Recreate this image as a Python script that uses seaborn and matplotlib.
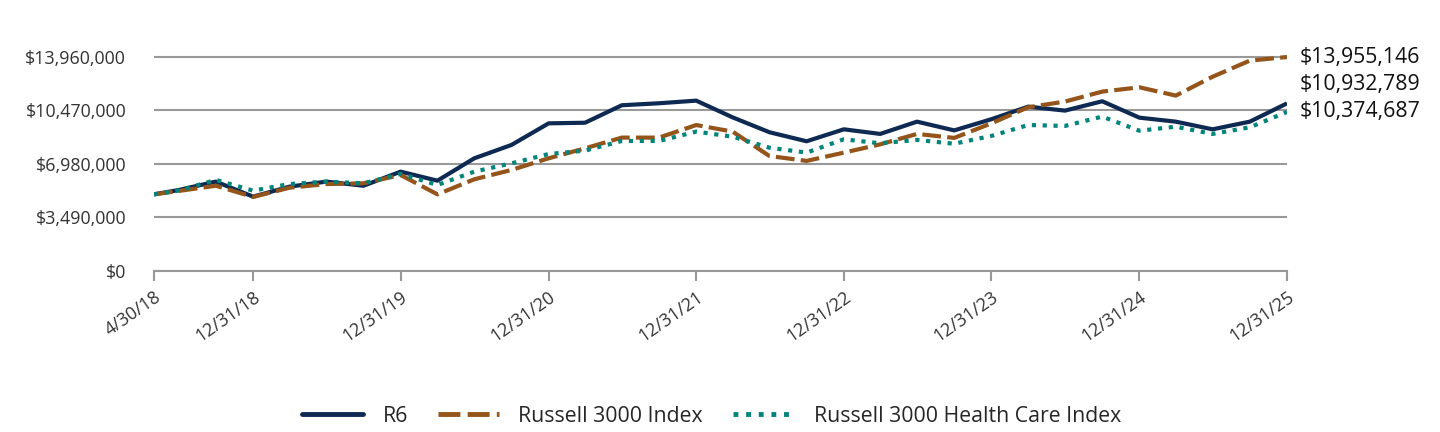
import matplotlib
matplotlib.use("Agg")
import matplotlib.pyplot as plt
import seaborn as sns
import pandas as pd
import numpy as np
from matplotlib.lines import Line2D

dates = ["2018-04-30"] + [str(d.date()) for d in pd.date_range("2018-06-30", "2025-12-31", freq="QE")]

r6 = [5.00, 5.28, 5.83, 4.85, 5.50, 5.83, 5.56, 6.48, 5.89, 7.35, 8.22, 9.63, 9.67, 10.81, 10.94,
      11.11, 10.02, 9.05, 8.46, 9.24, 8.94, 9.74, 9.17, 9.90, 10.72, 10.46, 11.07, 10.00, 9.74,
      9.24, 9.74, 10.932789]
r3000 = [5.00, 5.22, 5.56, 4.83, 5.43, 5.67, 5.72, 6.26, 5.00, 5.98, 6.59, 7.35, 8.00, 8.70, 8.70,
         9.52, 9.09, 7.50, 7.18, 7.72, 8.26, 8.94, 8.68, 9.63, 10.68, 11.05, 11.70, 11.98, 11.44,
         12.67, 13.72, 13.955146]
hc = [5.00, 5.25, 5.94, 5.24, 5.67, 5.83, 5.72, 6.33, 5.61, 6.48, 7.02, 7.63, 7.85, 8.48, 8.48,
      9.09, 8.76, 8.04, 7.72, 8.59, 8.33, 8.55, 8.30, 8.81, 9.52, 9.46, 10.07, 9.15, 9.41,
      8.94, 9.37, 10.374687]

series_names = ["R6", "Russell 3000 Index", "Russell 3000 Health Care Index"]
end_labels = ["$10,932,789", "$13,955,146", "$10,374,687"]
ytick_vals = [0, 3490000, 6980000, 10470000, 13960000]
ytick_labels = ["$0", "$3,490,000", "$6,980,000", "$10,470,000", "$13,960,000"]
xtick_dates = ["2018-04-30", "2018-12-31", "2019-12-31", "2020-12-31", "2021-12-31",
               "2022-12-31", "2023-12-31", "2024-12-31", "2025-12-31"]
xtick_labels = ["4/30/18", "12/31/18", "12/31/19", "12/31/20", "12/31/21",
                "12/31/22", "12/31/23", "12/31/24", "12/31/25"]

dt = pd.to_datetime(dates)
n = len(dt)
df = pd.DataFrame({
    "date": np.tile(dt, 3),
    "value": np.array(r6 + r3000 + hc) * 1e6,
    "series": np.repeat(series_names, n),
})

sns.set_theme(style="white")
plt.rcParams["font.family"] = ["Open Sans", "DejaVu Sans"]

colors = {"R6": "#0e2a52", "Russell 3000 Index": "#94541a", "Russell 3000 Health Care Index": "#00857a"}
fig = plt.figure(figsize=(14.4, 4.32), dpi=100)
ax = fig.add_axes([154 / 1440, 1 - 271 / 432, (1287 - 154) / 1440, 230 / 432])

sns.lineplot(data=df, x="date", y="value", hue="series", palette=colors, ax=ax, legend=False)
styles = [dict(lw=3.0, ls="-"), dict(lw=3.0, ls=(0, (4.5, 1.5))), dict(lw=3.0, ls=(0, (1, 1.6)))]
for line, st in zip(ax.get_lines(), styles):
    line.set_linewidth(st["lw"])
    line.set_linestyle(st["ls"])
    line.set_solid_capstyle("butt")
    line.set_dash_capstyle("butt")

ax.set_ylim(0, 15.0e6)
ax.set_xlim(dt[0], dt[-1])
ax.set_yticks(ytick_vals)
ax.set_yticklabels(ytick_labels, fontsize=12.9, color="#333333")
ax.set_xticks(pd.to_datetime(xtick_dates))
ax.set_xticklabels(xtick_labels, fontsize=12.9, color="#333333", rotation=35, ha="right",
                   rotation_mode="anchor")
ax.grid(axis="y", color="#999999", lw=1.5)
ax.set_axisbelow(True)
for s in ["top", "right", "left"]:
    ax.spines[s].set_visible(False)
ax.spines["bottom"].set_color("#999999")
ax.spines["bottom"].set_linewidth(1.5)
ax.tick_params(axis="x", bottom=True, direction="out", length=7, width=1.5, color="#999999", pad=5)
ax.tick_params(axis="y", left=False, length=0, pad=20)
ax.set_xlabel("")
ax.set_ylabel("")

# end labels, de-overlapped from the bottom up
ends = [r6[-1] * 1e6, r3000[-1] * 1e6, hc[-1] * 1e6]
order = np.argsort(ends)
gap = 1.76e6
placed = {}
prev = -np.inf
for i in order:
    y = max(ends[i], prev + gap)
    placed[i] = y
    prev = y
for i in range(3):
    ax.annotate(end_labels[i], xy=(dt[-1], placed[i]), xytext=(9, 0), textcoords="offset points",
                fontsize=15.3, color="#111111", va="center", ha="left", annotation_clip=False)

handles = [Line2D([0], [0], color=colors[nm], lw=3.5, ls=st["ls"]) for nm, st in zip(series_names, styles)]
fig.legend(handles, series_names, loc="center", bbox_to_anchor=(0.494, 1 - 416 / 432), ncol=3,
           frameon=False, fontsize=15.3, handlelength=2.9, columnspacing=1.4, handletextpad=0.9)

fig.savefig("out.png", dpi=100)
